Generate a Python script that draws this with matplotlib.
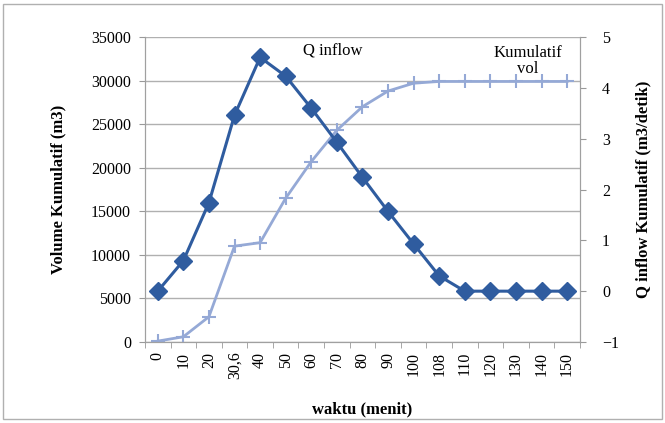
import matplotlib
matplotlib.use("Agg")
import matplotlib.pyplot as plt
import numpy as np

waktu = ["0", "10", "20", "30,6", "40", "50", "60", "70", "80", "90",
         "100", "108", "110", "120", "130", "140", "150"]
kumulatif_vol = [100, 600, 2900, 11000, 11400, 16500, 20700, 24300, 27000,
                 28800, 29700, 29900, 29900, 29900, 29900, 29900, 29900]
q_inflow = [0, 0.6, 1.74, 3.46, 4.6, 4.23, 3.6, 2.93, 2.24, 1.57,
            0.93, 0.3, 0, 0, 0, 0, 0]

plt.rcParams['font.family'] = ['Liberation Serif', 'DejaVu Serif']

def main():
    fig = plt.figure(figsize=(6.65, 4.23), dpi=100)
    ax = fig.add_axes([0.218, 0.1915, 0.654, 0.721])
    ax2 = ax.twinx()

    x = np.arange(len(waktu))
    ax.plot(x, kumulatif_vol, '-', marker='+', color='#95a9d6', lw=2,
            ms=10, mew=1.5, zorder=2)
    ax2.plot(x, q_inflow, '-', marker='D', color='#2f5c9f', lw=2.2,
             ms=9.5, zorder=3)

    ax.set_ylim(0, 35000)
    ax.set_yticks(range(0, 35001, 5000))
    ax2.set_ylim(-1, 5)
    ax2.set_yticks(range(-1, 6))
    ax.set_xlim(-0.5, len(waktu) - 0.5)
    ax.set_xticks(x)
    ax.set_xticklabels(waktu, rotation=90, fontsize=11.5)
    ax.set_xticks(np.arange(-0.5, len(waktu), 1), minor=True)
    ax.tick_params(axis='x', which='major', length=0, pad=7)
    ax.tick_params(axis='x', which='minor', length=4, color='#999999')
    ax.tick_params(axis='y', labelsize=11.5, length=4, color='#999999',
                   pad=6)
    ax2.tick_params(axis='y', labelsize=11.5, length=4, color='#999999',
                    pad=12)

    ax.grid(axis='y', color='#b0b0b0', lw=1)
    ax.set_axisbelow(True)
    for a in (ax, ax2):
        a.spines['top'].set_visible(False)
        for s in ('left', 'right', 'bottom'):
            a.spines[s].set_color('#a0a0a0')
    ax2.set_zorder(ax.get_zorder() + 1)
    ax2.patch.set_visible(False)

    ax.set_xlabel("waktu (menit)", fontsize=12, fontweight='bold',
                  labelpad=16)
    ax.set_ylabel("Volume Kumulatif (m3)", fontsize=12, fontweight='bold',
                  labelpad=18)
    ax2.set_ylabel("Q inflow Kumulatif (m3/detik)", fontsize=12,
                   fontweight='bold', labelpad=12)

    ax.text(6.85, 33400, "Q inflow", fontsize=12, ha='center', va='center')
    ax.text(14.45, 32300, "Kumulatif\nvol", fontsize=12, ha='center',
            va='center', linespacing=1.0)

    fig.patches.append(plt.Rectangle((0.005, 0.01), 0.99, 0.98,
                                     transform=fig.transFigure, fill=False,
                                     edgecolor='#b0b0b0', lw=1))
    fig.savefig("out.png", dpi=100)

if __name__ == '__main__':
    main()
